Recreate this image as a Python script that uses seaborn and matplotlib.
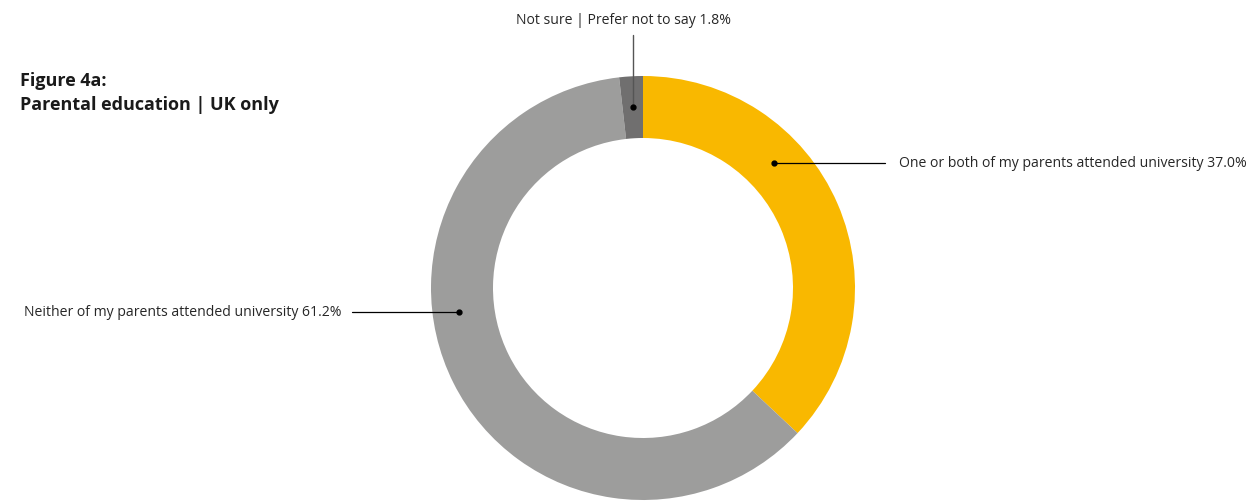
import numpy as np
import matplotlib.pyplot as plt
import seaborn as sns

sns.set_theme(style="white")
plt.rcParams['font.family'] = ['Open Sans', 'DejaVu Sans']

# Data
labels = ['One or both of my parents attended university',
          'Neither of my parents attended university',
          'Not sure | Prefer not to say']
values = [37.0, 61.2, 1.8]
colors = sns.color_palette(['#F9B800', '#9D9D9C', '#706F6F'])

W, H = 1256, 501
fig = plt.figure(figsize=(W / 100, H / 100), dpi=100)
ax = fig.add_axes([0, 0, 1, 1])

cx, cy, r_out, ring = 643, 213, 212, 62
ax.pie(values, colors=colors, startangle=90, counterclock=False,
       center=(cx, cy), radius=r_out, frame=True,
       wedgeprops=dict(width=ring, linewidth=0))
ax.set_xlim(0, W)
ax.set_ylim(0, H)
ax.set_aspect('equal')
ax.axis('off')

r_mid = r_out - ring / 2
fs = 10.1
tc = '#262626'

# yellow label on the right
y1 = 338
x1 = cx + np.sqrt(r_mid ** 2 - (y1 - cy) ** 2)
ax.plot([x1, 885], [y1, y1], color='black', lw=0.9)
ax.plot(x1, y1, 'o', color='black', ms=3.5)
ax.text(899, y1, f'{labels[0]} {values[0]:.1f}%', fontsize=fs,
        color=tc, va='center', ha='left')

# grey label on the left
y2 = 189
x2 = cx - np.sqrt((r_mid + 5) ** 2 - (y2 - cy) ** 2)
ax.plot([352, x2], [y2, y2], color='black', lw=0.9)
ax.plot(x2, y2, 'o', color='black', ms=3.5)
ax.text(342, y2, f'{labels[1]} {values[1]:.1f}%', fontsize=fs,
        color=tc, va='center', ha='right')

# dark grey label on top
ang = np.deg2rad(90 + values[2] / 100 * 360 / 2)
x3, y3 = cx + r_mid * np.cos(ang), cy + r_mid * np.sin(ang)
ax.plot([x3, x3], [y3, 466], color='#555555', lw=1.0)
ax.plot(x3, y3, 'o', color='black', ms=3.5)
ax.text(624, 481, f'{labels[2]} {values[2]:.1f}%', fontsize=fs,
        color=tc, va='center', ha='center')

fig.text(20 / W, 1 - 93 / H, 'Figure 4a:\nParental education | UK only',
         fontsize=13, fontweight='bold', color='#1a1a1a',
         va='center', ha='left', linespacing=1.5)

fig.savefig('out.png', dpi=100)
